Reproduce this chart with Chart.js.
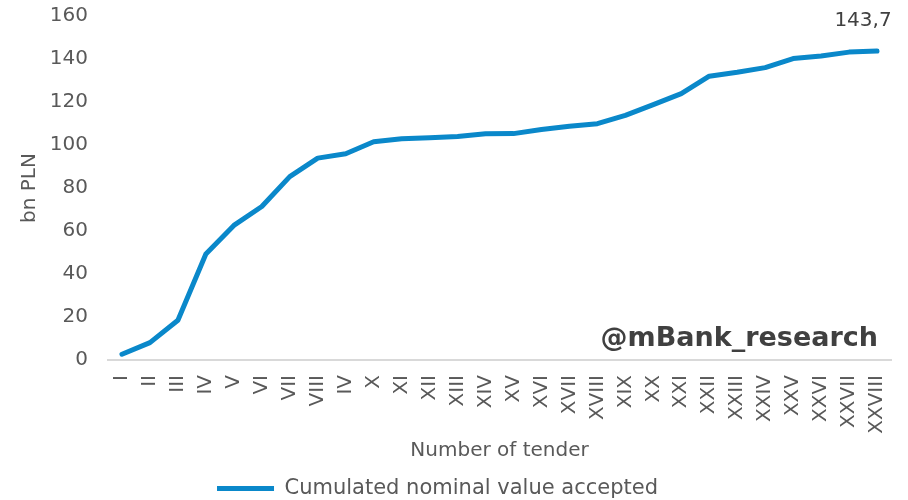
<!DOCTYPE html>
<html>
<head>
<meta charset="utf-8">
<title>Cumulated nominal value accepted</title>
<script src="https://cdn.jsdelivr.net/npm/chart.js@4/dist/chart.umd.min.js"></script>
<style>
  html, body { margin: 0; padding: 0; background: #fff; }
  #wrap { width: 908px; height: 500px; }
</style>
</head>
<body>
<div id="wrap"><canvas id="chart" width="908" height="500"></canvas></div>
<script>
// tender numbers (the 9th one is printed as "IV" on the axis)
const TENDERS = ['I', 'II', 'III', 'IV', 'V', 'VI', 'VII', 'VIII', 'IV', 'X',
  'XI', 'XII', 'XIII', 'XIV', 'XV', 'XVI', 'XVII', 'XVIII', 'XIX', 'XX',
  'XXI', 'XXII', 'XXIII', 'XXIV', 'XXV', 'XXVI', 'XXVII', 'XXVIII'];

// cumulated nominal value accepted, bn PLN
const CUMULATED = [2.7, 8.1, 18.5, 49.3, 62.6, 71.4, 85.3, 93.9, 95.9, 101.5,
  102.9, 103.4, 104.0, 105.2, 105.3, 107.2, 108.7, 109.9, 113.8, 118.8,
  123.9, 132.0, 133.8, 136.0, 140.2, 141.4, 143.2, 143.7];

const Y_TICKS = [0, 20, 40, 60, 80, 100, 120, 140, 160];

const BLUE = '#0A88CA';
const GREY_TEXT = '#595959';
const DARK_TEXT = '#404040';
const FONT = "'DejaVu Sans', Verdana, sans-serif";

Chart.defaults.font.family = FONT;
Chart.defaults.color = GREY_TEXT;

// value label on the last point + signature in the lower right corner
const extras = {
  id: 'extras',
  afterLayout(chart) {
    // legend sits a bit left of the canvas centre
    chart.legend.left -= 8;
    chart.legend.right -= 8;
  },
  afterDatasetsDraw(chart) {
    const { ctx } = chart;
    const x = chart.scales.x;
    const y = chart.scales.y;
    const last = CUMULATED.length - 1;
    const px = x.getPixelForValue(last);
    const py = y.getPixelForValue(CUMULATED[last]);

    ctx.save();
    ctx.fillStyle = DARK_TEXT;
    ctx.font = '20px ' + FONT;
    ctx.textAlign = 'center';
    ctx.textBaseline = 'middle';
    ctx.fillText(CUMULATED[last].toFixed(1).replace('.', ','), px - 14, py - 30);

    ctx.font = 'bold 27px ' + FONT;
    ctx.textAlign = 'right';
    ctx.fillText('@mBank_research', chart.chartArea.right - 13, chart.chartArea.bottom - 21);
    ctx.restore();
  }
};

new Chart(document.getElementById('chart'), {
  type: 'line',
  data: {
    labels: TENDERS,
    datasets: [{
      label: 'Cumulated nominal value accepted',
      data: CUMULATED,
      borderColor: BLUE,
      backgroundColor: BLUE,
      borderWidth: 5,
      borderCapStyle: 'round',
      borderJoinStyle: 'round',
      pointRadius: 0,
      tension: 0
    }]
  },
  options: {
    responsive: false,
    animation: false,
    layout: { padding: { top: 0, right: 17, bottom: -9, left: 0 } },
    plugins: {
      tooltip: { enabled: false },
      legend: {
        position: 'bottom',
        labels: {
          usePointStyle: true,
          pointStyle: 'line',
          pointStyleWidth: 57,
          padding: 3,
          color: GREY_TEXT,
          font: { size: 21 }
        }
      }
    },
    scales: {
      x: {
        offset: true,
        grid: { display: false, drawTicks: false },
        border: { display: true, color: '#D9D9D9', width: 2 },
        ticks: {
          autoSkip: false,
          minRotation: 90,
          maxRotation: 90,
          padding: 15,
          color: GREY_TEXT,
          font: { size: 20 }
        },
        title: {
          display: true,
          text: 'Number of tender',
          color: GREY_TEXT,
          font: { size: 20 },
          padding: { top: 0, bottom: 12 }
        },
        afterFit(scale) {
          scale.height = 115;
          scale.paddingLeft = 0;
          scale.paddingRight = 0;
        }
      },
      y: {
        min: 0,
        max: 160,
        grid: { display: false, drawTicks: false },
        border: { display: false },
        afterBuildTicks(scale) { scale.ticks = Y_TICKS.map(v => ({ value: v })); },
        ticks: {
          padding: 20,
          color: GREY_TEXT,
          font: { size: 20 }
        },
        title: {
          display: true,
          text: 'bn PLN',
          color: GREY_TEXT,
          font: { size: 20 },
          padding: { top: 18, bottom: 0 }
        },
        afterFit(scale) {
          scale.width = 108;
          scale.paddingTop = 16;
          scale.paddingBottom = 0;
        }
      }
    }
  },
  plugins: [extras]
});
</script>
</body>
</html>
